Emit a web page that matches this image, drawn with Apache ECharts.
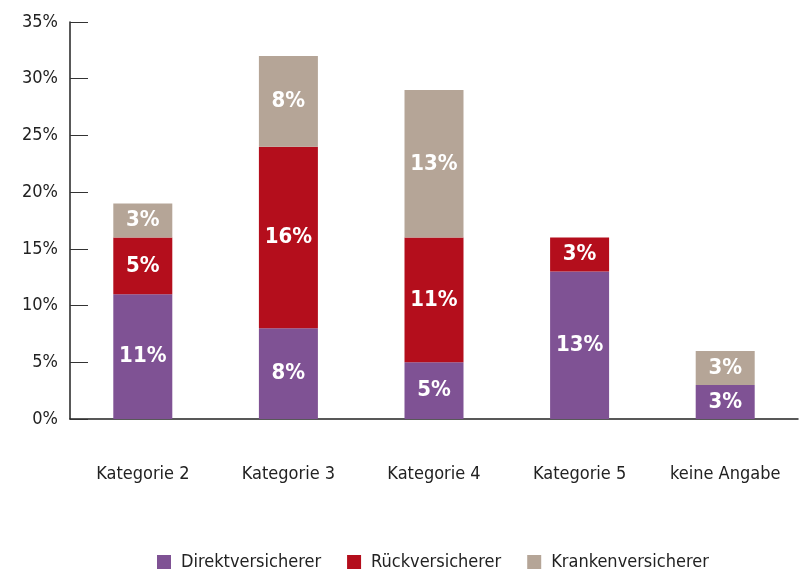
<!DOCTYPE html>
<html><head><meta charset="utf-8">
<script src="https://cdn.jsdelivr.net/npm/echarts@6/dist/echarts.min.js"></script>
<style>html,body{margin:0;padding:0;background:#fff}#c{width:799px;height:579px}</style>
</head><body><div id="c"></div>
<script>
const categories = ['Kategorie 2','Kategorie 3','Kategorie 4','Kategorie 5','keine Angabe'];
const direkt = [11, 8, 5, 13, 3];
const rueck = [5, 16, 11, 3, 0];
const kranken = [3, 8, 13, 0, 3];
const seriesNames = ['Direktversicherer','Rückversicherer','Krankenversicherer'];
const colors = ['#7f5294','#b40e1c','#b5a597'];
const FONT = '"DejaVu Sans Condensed","Liberation Sans Narrow",sans-serif';

const chart = echarts.init(document.getElementById('c'), null, {renderer:'canvas'});
const mk = (name, data, i) => ({
  name, type:'bar', stack:'a', data, barWidth:59,
  itemStyle:{color:colors[i]},
  label:{show:true, position:'inside', color:'#fff', fontFamily:FONT, fontSize:22, fontWeight:'bold',
    formatter:p => p.value ? p.value + '%' : ''}
});
chart.setOption({
  animation:false,
  textStyle:{fontFamily:FONT},
  grid:{left:70, top:22, right:1, bottom:160, containLabel:false},
  legend:{bottom:3, left:152, itemWidth:14, itemHeight:14, itemGap:26, icon:'rect',
    textStyle:{fontFamily:FONT, fontSize:18, color:'#222', padding:[0,0,0,5]}},
  xAxis:{type:'category', data:categories,
    axisLine:{lineStyle:{color:'#222', width:1.5}},
    axisTick:{inside:true, length:10, lineStyle:{color:'#555'}},
    axisLabel:{fontFamily:FONT, fontSize:18, color:'#222', margin:46, interval:0}},
  yAxis:{type:'value', min:0, max:35, interval:5,
    axisLine:{show:true, lineStyle:{color:'#222', width:1.5}},
    axisTick:{show:true, inside:true, length:18, lineStyle:{color:'#333'}},
    splitLine:{show:false},
    axisLabel:{fontFamily:FONT, fontSize:18, color:'#222', margin:12, formatter:'{value}%'}},
  series:[mk(seriesNames[0],direkt,0), mk(seriesNames[1],rueck,1), mk(seriesNames[2],kranken,2)]
});
</script></body></html>
